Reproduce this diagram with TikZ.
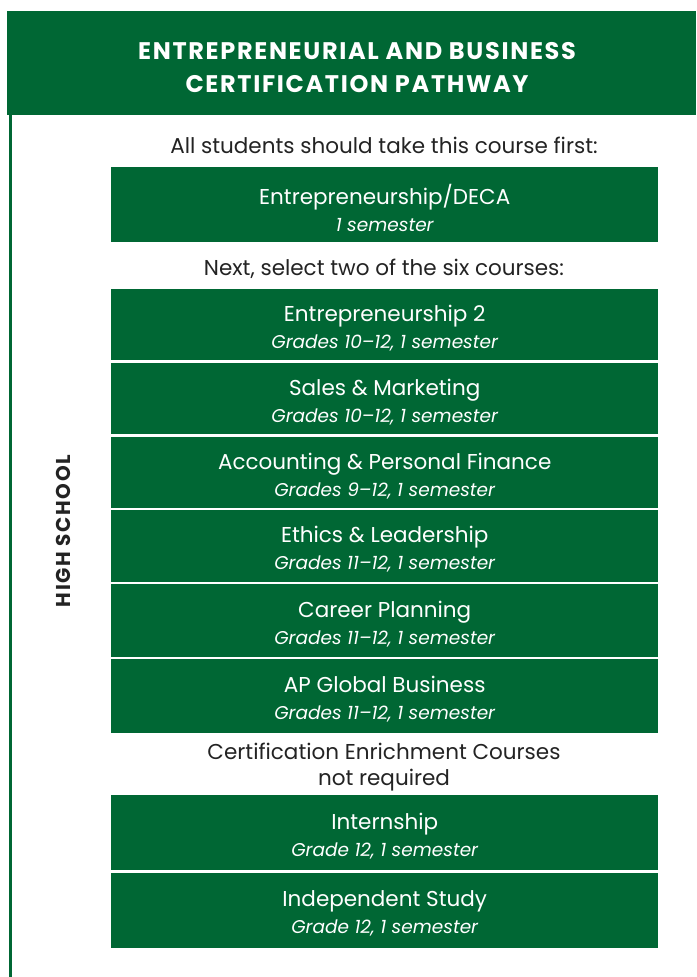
\documentclass[tikz,border=0pt]{standalone}
\usepackage{fontspec}
\setmainfont{Poppins}
\definecolor{dgreen}{RGB}{0,103,52}
\definecolor{ink}{RGB}{35,35,35}
\newcommand{\sub}[1]{{\itshape\fontsize{18.5}{18.5}\selectfont #1}}
\begin{document}
\begin{tikzpicture}[x=1pt,y=-1pt,
  course/.style={fill=dgreen,draw=none,anchor=north west,minimum width=547pt,inner sep=0pt},
  ctext/.style={text=white,align=center,inner sep=0pt,yshift=-3pt,font=\fontsize{21.5}{27}\selectfont},
  note/.style={text=ink,align=center,font=\fontsize{21.5}{26}\selectfont,inner sep=0pt}]
\useasboundingbox (0,0) rectangle (696,977);
\fill[white] (0,0) rectangle (696,977);
% header
\node[fill=dgreen,anchor=north west,minimum width=689pt,minimum height=104pt,inner sep=0pt] (head) at (7,11) {};
\node[text=white,align=center,inner sep=0pt,
  font=\bfseries\fontsize{24}{33}\selectfont\addfontfeature{LetterSpace=7}] (ht) at (357,68)
  {ENTREPRENEURIAL AND BUSINESS\\CERTIFICATION PATHWAY};
% left rule
\fill[dgreen] (9,115) rectangle (12,977);
\node[rotate=90,text=ink,font=\bfseries\fontsize{20}{20}\selectfont\addfontfeature{LetterSpace=8}] (hs) at (63,531) {HIGH SCHOOL};
% notes
\node[note] (n1) at (384,145) {All students should take this course first:};
\node[note] (n2) at (384,269) {Next, select two of the six courses:};
\node[note] (n3) at (384,767) {Certification Enrichment Courses\\not required};
% courses
\node[course,minimum height=75pt,label={[ctext]center:{Entrepreneurship/DECA\\\sub{1 semester}}}] (c1) at (111,167) {};
\node[course,minimum height=71pt,label={[ctext]center:{Entrepreneurship 2\\\sub{Grades 10–12, 1 semester}}}] (c2) at (111,289) {};
\node[course,minimum height=71pt,label={[ctext]center:{Sales \& Marketing\\\sub{Grades 10–12, 1 semester}}}] (c3) at (111,363) {};
\node[course,minimum height=71pt,label={[ctext]center:{Accounting \& Personal Finance\\\sub{Grades 9–12, 1 semester}}}] (c4) at (111,437) {};
\node[course,minimum height=72pt,label={[ctext]center:{Ethics \& Leadership\\\sub{Grades 11–12, 1 semester}}}] (c5) at (111,510) {};
\node[course,minimum height=73pt,label={[ctext]center:{Career Planning\\\sub{Grades 11–12, 1 semester}}}] (c6) at (111,584) {};
\node[course,minimum height=74pt,label={[ctext]center:{AP Global Business\\\sub{Grades 11–12, 1 semester}}}] (c7) at (111,659) {};
\node[course,minimum height=75pt,label={[ctext]center:{Internship\\\sub{Grade 12, 1 semester}}}] (c8) at (111,795) {};
\node[course,minimum height=75pt,label={[ctext]center:{Independent Study\\\sub{Grade 12, 1 semester}}}] (c9) at (111,873) {};
\end{tikzpicture}
\end{document}
